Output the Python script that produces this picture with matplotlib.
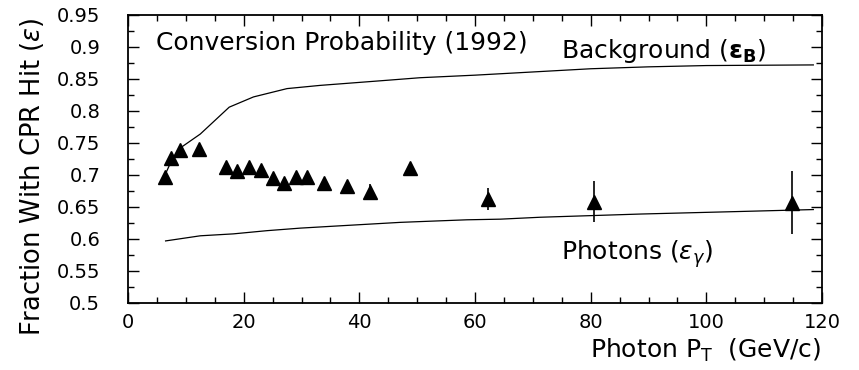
import numpy as np
import matplotlib
matplotlib.use('Agg')
import matplotlib.pyplot as plt
from matplotlib.ticker import MultipleLocator

# measured points (photon pT, fraction with CPR hit, error)
pt = [6.4, 7.5, 9.0, 12.3, 16.9, 18.9, 20.9, 23.0, 25.0, 27.0, 29.0, 31.0, 33.9, 37.9, 41.8, 48.8, 62.2, 80.6, 114.8]
frac = [0.697, 0.727, 0.739, 0.741, 0.713, 0.707, 0.712, 0.708, 0.695, 0.687, 0.697, 0.697, 0.688, 0.683, 0.674, 0.711, 0.663, 0.658, 0.657]
err = [0.004, 0.004, 0.004, 0.004, 0.004, 0.004, 0.004, 0.004, 0.004, 0.004, 0.004, 0.004, 0.005, 0.006, 0.012, 0.008, 0.017, 0.032, 0.049]

# background curve
bg_x = [6.4, 7.5, 9.0, 12.5, 17.5, 21.7, 27.5, 33.2, 39.0, 44.8, 50.5, 60, 70, 80, 90, 100, 118.5]
bg_y = [0.700, 0.722, 0.742, 0.764, 0.806, 0.822, 0.835, 0.840, 0.844, 0.848, 0.852, 0.856, 0.861, 0.866, 0.869, 0.871, 0.872]

# photon curve
ph_x = [6.5, 12.5, 18.2, 24.0, 29.8, 35.5, 41.3, 47.1, 52.8, 58.6, 64.4, 71.3, 88.6, 105.9, 118.5]
ph_y = [0.597, 0.605, 0.608, 0.613, 0.617, 0.620, 0.623, 0.626, 0.628, 0.630, 0.631, 0.634, 0.639, 0.643, 0.646]

ytick_labels = ['0.5', '0.55', '0.6', '0.65', '0.7', '0.75', '0.8', '0.85', '0.9', '0.95']

plt.rcParams['font.family'] = ['DejaVu Sans']
plt.rcParams['mathtext.fontset'] = 'dejavusans'

fig = plt.figure(figsize=(8.59, 3.70), dpi=100)
ax = fig.add_axes([128/859, 1-303/370, (822-128)/859, (303-15)/370])

ax.plot(bg_x, bg_y, color='black', lw=0.9)
ax.plot(ph_x, ph_y, color='black', lw=0.9)
ax.errorbar(pt, frac, yerr=err, fmt='^', color='black', ms=10, elinewidth=1.2, capsize=0)

ax.set_xlim(0, 120)
ax.set_ylim(0.5, 0.95)
ax.xaxis.set_major_locator(MultipleLocator(20))
ax.xaxis.set_minor_locator(MultipleLocator(5))
ax.yaxis.set_minor_locator(MultipleLocator(0.025))
ax.set_yticks(np.arange(0.5, 0.951, 0.05))
ax.set_yticklabels(ytick_labels)
ax.tick_params(which='both', direction='in', top=True, right=True, labelsize=14)
ax.tick_params(which='major', length=8, width=1)
ax.tick_params(which='minor', length=4, width=1)
ax.tick_params(axis='y', pad=20)
ax.tick_params(axis='x', pad=7)
for s in ax.spines.values():
    s.set_linewidth(1.3)

ax.text(4.8, 0.896, 'Conversion Probability (1992)', fontsize=18, va='baseline', ha='left')
ax.text(74.8, 0.883, r'Background ($\boldsymbol{\varepsilon}_{\mathbf{B}}$)', fontsize=18, va='baseline', ha='left')
ax.text(74.8, 0.567, r'Photons ($\varepsilon_{\gamma}$)', fontsize=18, va='baseline', ha='left')

fig.text(821/859, 1-358/370, r'Photon P$_{\mathrm{T}}$  (GeV/c)', fontsize=18, ha='right', va='baseline')
fig.text(32/859, 1-18/370, r'Fraction With CPR Hit ($\varepsilon$)', fontsize=18.5, rotation=90, ha='center', va='top')

fig.savefig('out.png', dpi=100)
